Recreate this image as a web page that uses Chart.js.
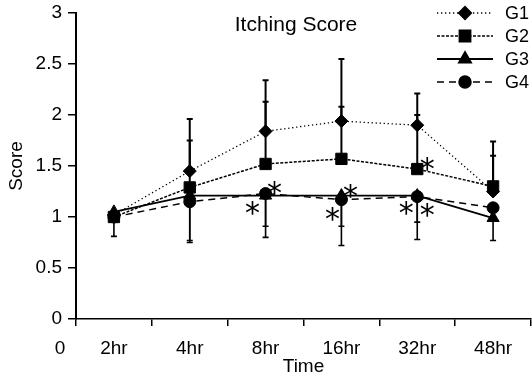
<!DOCTYPE html>
<html>
<head>
<meta charset="utf-8">
<script src="https://cdn.jsdelivr.net/npm/chart.js@4.4.0/dist/chart.umd.min.js"></script>
<style>
html,body{margin:0;padding:0;background:#fff;overflow:hidden;}
#wrap{position:relative;width:532px;height:378px;}
canvas{display:block;}
</style>
</head>
<body>
<div id="wrap"><canvas id="grafico"></canvas></div>
<script>
// tempos das medições
const tempos = ['2hr', '4hr', '8hr', '16hr', '32hr', '48hr']

// médias de cada grupo
const g1 = [1.02, 1.45, 1.84, 1.94, 1.90, 1.25]
const g2 = [1.00, 1.29, 1.52, 1.57, 1.47, 1.30]
const g3 = [1.05, 1.21, 1.21, 1.21, 1.21, 0.99]
const g4 = [1.00, 1.15, 1.23, 1.17, 1.20, 1.09]

// ponta das barras de erro (para cima em G1 e G2, para baixo em G3 e G4)
const g1Sup = [null, 1.96, 2.34, 2.55, 2.21, 1.74]
const g2Sup = [null, 1.75, 2.13, 2.08, 2.00, 1.60]
const g3Inf = [0.81, 0.75, 0.80, 0.72, 0.78, 0.77]
const g4Inf = [null, 0.77, 0.91, 0.91, 0.95, null]

// asteriscos de significância: [indice do tempo, indice do grupo]
const asteriscos = [[2, 3], [2, 3], [3, 3], [3, 3], [4, 3], [4, 3], [4, 1]]

// valores do eixo Y
const ticksY = [0, 0.5, 1, 1.5, 2, 2.5, 3]

const fonte = 'Liberation Sans, Arial, Helvetica, sans-serif'

//PLUGIN DAS BARRAS DE ERRO
const barrasErro = {
    id: 'barrasErro',
    afterDatasetsDraw(chart) {
        const ctx = chart.ctx
        const y = chart.scales.y
        chart.data.datasets.forEach((ds, i) => {
            if (!ds.erro) return
            const meta = chart.getDatasetMeta(i)
            ctx.save()
            ctx.strokeStyle = '#000'
            ctx.lineWidth = ds.erroLargura
            ds.erro.forEach((v, j) => {
                if (v === null) return
                const p = meta.data[j]
                const yf = y.getPixelForValue(v)
                ctx.beginPath()
                ctx.moveTo(p.x, p.y)
                ctx.lineTo(p.x, yf)
                ctx.moveTo(p.x - 3, yf)
                ctx.lineTo(p.x + 3, yf)
                ctx.stroke()
            })
            ctx.restore()
        })
    }
}

//PLUGIN DE TEXTOS EXTRAS: titulo, legenda, asteriscos e o "0" do eixo X
const textosExtras = {
    id: 'textosExtras',
    afterDraw(chart) {
        const ctx = chart.ctx
        ctx.save()
        ctx.fillStyle = '#000'
        ctx.textAlign = 'center'
        ctx.textBaseline = 'middle'

        // titulo
        ctx.font = '21px ' + fonte
        ctx.fillText('Itching Score', 296, 25)

        // "0" na origem do eixo X
        ctx.font = '19px ' + fonte
        ctx.fillText('0', 60, 349)

        // asteriscos
        const desloc = [[-13, 12], [9, -8], [-9, 12], [9, -11], [-11, 9], [10, 11], [10, -7]]
        ctx.font = '30px DejaVu Sans'
        ctx.textBaseline = 'alphabetic'
        asteriscos.forEach((a, k) => {
            const p = chart.getDatasetMeta(a[1]).data[a[0]]
            ctx.fillText('*', p.x + desloc[k][0], p.y + desloc[k][1] + 17)
        })

        // legenda desenhada à mão (linha + marcador + nome)
        ctx.textAlign = 'left'
        ctx.textBaseline = 'middle'
        ctx.font = '18px ' + fonte
        chart.data.datasets.forEach((ds, i) => {
            const ly = 13 + i * 23
            ctx.strokeStyle = '#000'
            ctx.lineWidth = ds.borderWidth
            ctx.setLineDash(ds.borderDash || [])
            ctx.beginPath()
            ctx.moveTo(437, ly)
            ctx.lineTo(493, ly)
            ctx.stroke()
            ctx.setLineDash([])
            ctx.fillStyle = '#000'
            Chart.helpers.drawPoint(ctx, {pointStyle: ds.pointStyle, radius: ds.pointRadius, borderWidth: 1, rotation: 0}, 465, ly)
            ctx.fillStyle = '#000'
            ctx.fillText(ds.label, 505, ly + 1)
        })
        ctx.restore()
    }
}

//GERANDO O GRÁFICO
const ctx = document.getElementById('grafico').getContext('2d')
const grafico = new Chart(ctx, {
    type: 'line',
    data: {
        labels: tempos,
        datasets: [
            {
                label: 'G1',
                data: g1,
                erro: g1Sup,
                erroLargura: 2,
                borderColor: '#000',
                backgroundColor: '#000',
                borderWidth: 1.3,
                borderDash: [1.3, 2.7],
                pointStyle: 'rectRot',
                pointRadius: 6.5,
                pointBorderWidth: 1,
            },
            {
                label: 'G2',
                data: g2,
                erro: g2Sup,
                erroLargura: 2,
                borderColor: '#000',
                backgroundColor: '#000',
                borderWidth: 1.5,
                borderDash: [3, 1.5],
                pointStyle: 'rect',
                pointRadius: 8,
                pointBorderWidth: 1,
            },
            {
                label: 'G3',
                data: g3,
                erro: g3Inf,
                erroLargura: 1.6,
                borderColor: '#000',
                backgroundColor: '#000',
                borderWidth: 1.8,
                pointStyle: 'triangle',
                pointRadius: 7,
                pointBorderWidth: 1,
            },
            {
                label: 'G4',
                data: g4,
                erro: g4Inf,
                erroLargura: 1.6,
                borderColor: '#000',
                backgroundColor: '#000',
                borderWidth: 1.5,
                borderDash: [7, 5],
                pointStyle: 'circle',
                pointRadius: 6,
                pointBorderWidth: 1,
            },
        ],
    },
    plugins: [barrasErro, textosExtras],
    options: {
        responsive: true,
        maintainAspectRatio: false,
        animation: false,
        layout: {
            autoPadding: false,
            padding: {top: 0, right: 1, left: 0, bottom: 0}
        },
        plugins: {
            legend: {display: false},
            tooltip: {enabled: false},
        },
        scales: {
            x: {
                type: 'category',
                offset: true,
                afterFit(scale) {
                    scale.height = 59
                    scale.paddingLeft = 0
                    scale.paddingRight = 0
                },
                grid: {
                    offset: true,
                    drawOnChartArea: false,
                    color: '#000',
                    tickColor: '#000',
                    tickLength: 7,
                    lineWidth: 1.5,
                },
                border: {color: '#000', width: 1.5},
                ticks: {
                    color: '#000',
                    padding: 11,
                    maxRotation: 0,
                    font: {size: 19, family: fonte},
                },
                title: {
                    display: true,
                    text: 'Time',
                    color: '#000',
                    padding: {top: 0, bottom: 0},
                    font: {size: 19, family: fonte},
                },
            },
            y: {
                min: 0,
                max: 3,
                afterFit(scale) {
                    scale.width = 76
                    scale.paddingTop = 13
                    scale.paddingBottom = 0
                },
                afterBuildTicks(scale) { scale.ticks = ticksY.map(v => ({value: v})) },
                grid: {
                    drawOnChartArea: false,
                    color: '#000',
                    tickColor: '#000',
                    tickLength: 8,
                    lineWidth: 1.5,
                },
                border: {color: '#000', width: 2},
                ticks: {
                    color: '#000',
                    padding: 6,
                    font: {size: 19, family: fonte},
                    callback: v => String(v),
                },
                title: {
                    display: true,
                    text: 'Score',
                    color: '#000',
                    padding: {top: 5, bottom: 0},
                    font: {size: 19, family: fonte},
                },
            },
        },
    },
})
</script>
</body>
</html>
